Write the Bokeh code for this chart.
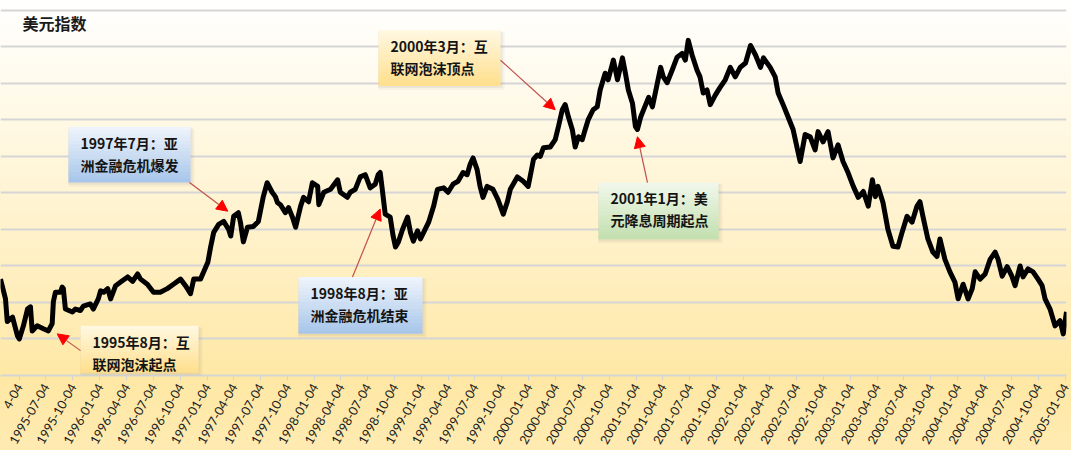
import pandas as pd
from bokeh.plotting import figure
from bokeh.models import (FixedTicker, DatetimeTickFormatter, Range1d, BoxAnnotation,
                          Label, Arrow, NormalHead, ColumnDataSource)
from bokeh.embed import file_html
from bokeh.resources import INLINE

# ---------------- data ----------------
dates = [
    "1995-01-31", "1995-02-17", "1995-02-23", "1995-03-13", "1995-03-30", "1995-04-05", "1995-04-19",
    "1995-05-03", "1995-05-13", "1995-05-19", "1995-06-05", "1995-06-26", "1995-07-13", "1995-07-26",
    "1995-07-30", "1995-08-06", "1995-08-23", "1995-08-29", "1995-09-02", "1995-09-09", "1995-10-03",
    "1995-10-13", "1995-10-30", "1995-11-09", "1995-12-03", "1995-12-13", "1995-12-30", "1996-01-07",
    "1996-01-17", "1996-01-31", "1996-02-10", "1996-02-27", "1996-03-15", "1996-04-08", "1996-04-25",
    "1996-05-12", "1996-05-22", "1996-06-14", "1996-07-05", "1996-07-28", "1996-08-21", "1996-09-11",
    "1996-10-05", "1996-10-22", "1996-11-08", "1996-11-19", "1996-12-12", "1996-12-23", "1997-01-06",
    "1997-01-16", "1997-01-26", "1997-02-12", "1997-03-01", "1997-03-18", "1997-03-25", "1997-04-04",
    "1997-04-20", "1997-04-27", "1997-05-07", "1997-05-21", "1997-06-10", "1997-06-27", "1997-07-14",
    "1997-07-27", "1997-08-13", "1997-08-24", "1997-08-31", "1997-09-10", "1997-09-27", "1997-10-08",
    "1997-10-21", "1997-11-01", "1997-11-18", "1997-11-28", "1997-12-15", "1997-12-28", "1998-01-15",
    "1998-01-19", "1998-02-05", "1998-02-28", "1998-03-24", "1998-04-02", "1998-04-26", "1998-05-06",
    "1998-05-23", "1998-06-09", "1998-06-26", "1998-07-13", "1998-07-30", "1998-08-09", "1998-08-16",
    "1998-08-23", "1998-09-02", "1998-09-19", "1998-09-29", "1998-10-07", "1998-10-17", "1998-10-31",
    "1998-11-17", "1998-11-27", "1998-12-07", "1998-12-21", "1998-12-31", "1999-01-11", "1999-01-28",
    "1999-02-14", "1999-02-27", "1999-03-20", "1999-04-04", "1999-04-21", "1999-05-08", "1999-05-25",
    "1999-06-08", "1999-06-18", "1999-06-28", "1999-07-12", "1999-07-22", "1999-08-01", "1999-08-15",
    "1999-09-04", "1999-09-21", "1999-10-09", "1999-10-23", "1999-11-02", "1999-11-26", "1999-12-16",
    "2000-01-02", "2000-01-20", "2000-02-02", "2000-02-12", "2000-02-23", "2000-03-17", "2000-04-03",
    "2000-04-14", "2000-04-27", "2000-05-07", "2000-05-18", "2000-05-31", "2000-06-10", "2000-06-21",
    "2000-07-04", "2000-07-14", "2000-07-24", "2000-08-10", "2000-08-24", "2000-09-03", "2000-09-20",
    "2000-09-30", "2000-10-18", "2000-11-01", "2000-11-18", "2000-11-28", "2000-12-08", "2000-12-22",
    "2001-01-01", "2001-01-08", "2001-01-19", "2001-02-05", "2001-02-15", "2001-02-28", "2001-03-17",
    "2001-03-28", "2001-04-06", "2001-04-19", "2001-05-06", "2001-05-23", "2001-06-09", "2001-06-20",
    "2001-06-30", "2001-07-13", "2001-07-30", "2001-08-09", "2001-08-20", "2001-09-02", "2001-09-13",
    "2001-09-30", "2001-10-17", "2001-11-03", "2001-11-20", "2001-12-07", "2001-12-24", "2002-01-11",
    "2002-01-28", "2002-02-14", "2002-03-03", "2002-03-13", "2002-04-05", "2002-04-22", "2002-05-02",
    "2002-05-19", "2002-06-05", "2002-06-22", "2002-07-05", "2002-07-16", "2002-08-02", "2002-08-19",
    "2002-09-05", "2002-09-15", "2002-10-02", "2002-10-19", "2002-11-05", "2002-11-22", "2002-12-09",
    "2002-12-26", "2003-01-13", "2003-01-30", "2003-02-16", "2003-03-05", "2003-03-19", "2003-03-29",
    "2003-04-07", "2003-04-24", "2003-05-11", "2003-05-28", "2003-06-14", "2003-06-28", "2003-07-15",
    "2003-08-01", "2003-08-18", "2003-08-28", "2003-09-07", "2003-09-24", "2003-10-11", "2003-10-25",
    "2003-11-04", "2003-11-21", "2003-12-08", "2003-12-25", "2004-01-05", "2004-01-22", "2004-02-08",
    "2004-02-22", "2004-03-03", "2004-03-20", "2004-04-06", "2004-04-23", "2004-05-10", "2004-05-20",
    "2004-06-03", "2004-06-20", "2004-07-06", "2004-07-17", "2004-08-03", "2004-08-13", "2004-08-30",
    "2004-09-16", "2004-10-03", "2004-10-17", "2004-10-27", "2004-11-13", "2004-11-30", "2004-12-17",
    "2004-12-28", "2005-01-08",
]
usd_index = [
    88.2, 85.5, 82.4, 83.0, 80.4, 80.0, 81.8,
    84.1, 84.4, 81.1, 81.8, 81.4, 81.1, 82.1,
    85.1, 86.4, 86.4, 87.1, 86.9, 84.1, 83.7,
    84.1, 83.9, 84.5, 84.8, 84.1, 85.5, 86.6,
    86.4, 86.9, 85.5, 87.3, 87.8, 88.5, 87.9,
    88.9, 88.2, 87.5, 86.4, 86.4, 86.9, 87.5,
    88.2, 87.3, 86.2, 88.2, 88.2, 89.2, 90.5,
    92.7, 94.6, 95.7, 96.1, 95.0, 94.1, 96.8,
    97.3, 96.0, 93.3, 95.3, 95.4, 96.1, 99.5,
    101.4, 100.1, 99.5, 98.7, 98.4, 97.3, 98.0,
    96.7, 95.3, 98.2, 99.4, 98.8, 101.4, 100.9,
    98.4, 100.1, 100.5, 101.8, 100.1, 99.4, 100.1,
    100.5, 102.2, 102.5, 100.7, 101.2, 102.5, 102.8,
    100.5, 97.1, 96.7, 94.1, 92.6, 93.3, 95.0,
    96.7, 94.6, 93.4, 94.8, 93.7, 94.6, 96.0,
    98.2, 100.5, 100.7, 100.1, 101.2, 101.6, 102.8,
    102.5, 103.9, 104.8, 103.2, 100.9, 99.4, 100.9,
    100.5, 99.1, 97.1, 98.8, 100.5, 102.2, 101.6,
    100.9, 104.6, 105.2, 105.0, 106.2, 106.3, 107.3,
    109.1, 111.4, 112.1, 110.4, 108.7, 106.3, 107.7,
    107.3, 108.7, 110.0, 111.4, 111.8, 114.1, 116.4,
    115.5, 118.2, 115.5, 118.5, 116.4, 114.1, 112.3,
    109.1, 108.7, 110.4, 112.1, 113.1, 111.8, 115.1,
    117.2, 115.9, 115.1, 116.8, 118.6, 119.1, 118.2,
    120.9, 118.9, 116.8, 115.9, 113.7, 114.1, 112.1,
    113.4, 114.5, 115.5, 117.2, 115.9, 117.2, 117.8,
    120.2, 118.9, 117.2, 118.5, 117.2, 115.9, 113.7,
    112.1, 110.4, 108.7, 106.3, 104.3, 108.0, 107.7,
    105.9, 108.4, 107.0, 108.4, 104.8, 106.6, 104.3,
    102.8, 100.9, 99.4, 100.2, 98.2, 101.8, 99.5,
    100.9, 98.7, 95.0, 92.7, 92.6, 94.6, 96.8,
    96.0, 98.2, 98.8, 96.8, 93.7, 91.9, 91.3,
    93.7, 90.9, 89.2, 87.8, 85.5, 87.5, 85.5,
    86.9, 89.2, 88.2, 88.9, 90.9, 91.9, 90.9,
    88.6, 89.9, 88.6, 87.3, 90.0, 88.5, 89.6,
    89.2, 88.2, 87.3, 85.5, 84.1, 81.8, 82.5,
    80.7, 83.7,
]
tick_dates = [
    "1995-04-04", "1995-07-04", "1995-10-04", "1996-01-04", "1996-04-04", "1996-07-04", "1996-10-04",
    "1997-01-04", "1997-04-04", "1997-07-04", "1997-10-04", "1998-01-04", "1998-04-04", "1998-07-04",
    "1998-10-04", "1999-01-04", "1999-04-04", "1999-07-04", "1999-10-04", "2000-01-04", "2000-04-04",
    "2000-07-04", "2000-10-04", "2001-01-04", "2001-04-04", "2001-07-04", "2001-10-04", "2002-01-04",
    "2002-04-04", "2002-07-04", "2002-10-04", "2003-01-04", "2003-04-04", "2003-07-04", "2003-10-04",
    "2004-01-04", "2004-04-04", "2004-07-04", "2004-10-04", "2005-01-04",
]
# the first tick label is only partly visible at the left edge of the picture
first_tick_visible_text = "4-04"
grid_levels = [75, 80, 85, 90, 95, 100, 105, 110, 115, 120, 125]
chart_title = "美元指数"
event_line1 = ["1995年8月：互", "1997年7月：亚", "1998年8月：亚", "2000年3月：互", "2001年1月：美"]
event_line2 = ["联网泡沫起点", "洲金融危机爆发", "洲金融危机结束", "联网泡沫顶点", "元降息周期起点"]
event_tip_dates = ["1995-08-12", "1997-03-15", "1998-08-16", "2000-04-03", "2001-01-08"]
event_tip_values = [80.7, 97.5, 97.8, 111.4, 107.7]
event_styles = ["gold", "blue", "blue", "gold", "green"]

# ---------------- layout / style ----------------
W, H = 1071, 450
X_START, X_END = "1995-01-31", "2005-01-08"
Y_MIN, Y_MAX = 75.0, 126.36


def ms(s):
    return pd.Timestamp(s).value / 1e6


x0, x1 = ms(X_START), ms(X_END)
FRAME_L, FRAME_R, FRAME_T, FRAME_B = 0, 1066, 0, 377   # frame edges in pixels


def sx(px):
    return x0 + (px - FRAME_L) / (FRAME_R - FRAME_L) * (x1 - x0)


def sy(py):
    return Y_MIN + (FRAME_B - py) / (FRAME_B - FRAME_T) * (Y_MAX - Y_MIN)


p = figure(width=W, height=H, x_axis_type="datetime",
           x_range=Range1d(x0, x1), y_range=Range1d(Y_MIN, Y_MAX),
           output_backend="svg", toolbar_location=None,
           min_border_left=0, min_border_right=W - FRAME_R, min_border_top=0,
           min_border_bottom=H - FRAME_B)

p.background_fill_alpha = 0
p.border_fill_alpha = 0
p.outline_line_color = None
p.styles = {"background": "linear-gradient(to bottom, #FFFFFF 0%, #FFF8E3 28%, #FFF0C4 58%, #FFE8A4 84%, #FFEBB2 100%)"}

p.yaxis.visible = False
p.xgrid.visible = False
p.ygrid.ticker = FixedTicker(ticks=grid_levels)
p.ygrid.grid_line_color = "#D5D5D5"
p.ygrid.grid_line_width = 2

tick_ms = [ms(d) for d in tick_dates]
p.xaxis.ticker = FixedTicker(ticks=tick_ms)
fmt = "%Y-%m-%d"
p.xaxis.formatter = DatetimeTickFormatter(days=fmt, months=fmt, years=fmt, hours=fmt,
                                          hourmin=fmt, minutes=fmt, minsec=fmt, seconds=fmt,
                                          milliseconds=fmt, microseconds=fmt)
p.xaxis.major_label_overrides = {tick_ms[0]: first_tick_visible_text}
p.xaxis.axis_line_color = "#D5D5D5"
p.xaxis.axis_line_width = 2
p.xaxis.major_tick_line_color = "#D5D5D5"
p.xaxis.major_tick_out = 5
p.xaxis.major_tick_in = 0
p.xaxis.minor_tick_line_color = None
p.xaxis.major_label_orientation = 1.05
p.xaxis.major_label_standoff = 4
p.xaxis.major_label_text_font = "Lato"
p.xaxis.major_label_text_font_size = "12.5px"
p.xaxis.major_label_text_color = "#1A1A1A"

src = ColumnDataSource(dict(date=pd.to_datetime(dates), v=usd_index))
p.line("date", "v", source=src, line_width=5, line_color="#000000", line_join="round")

# title
p.add_layout(Label(x=sx(22), y=sy(23), text=chart_title, text_font="Noto Sans CJK SC",
                   text_font_size="16px", text_font_style="bold", text_color="#1A1A1A",
                   text_baseline="middle", text_align="left"))

# callout boxes (pixel rectangles) and arrow starts
boxes = [(80, 327, 198, 374), (68, 127, 190, 183), (298, 278, 422, 335),
         (378, 30, 500, 86), (598, 183, 718, 240)]
arrow_starts = [(80, 352), (189, 183), (352, 278), (500, 60), (647, 183)]
palette = {
    "gold": ((0xFF, 0xF8, 0xE2), (0xFF, 0xDF, 0x8C)),
    "blue": ((0xF0, 0xF5, 0xFC), (0xA6, 0xC5, 0xEA)),
    "green": ((0xF1, 0xF8, 0xEC), (0xC2, 0xDF, 0xAE)),
}


def mix(c1, c2, t):
    return "#%02X%02X%02X" % tuple(int(round(a + (b - a) * t)) for a, b in zip(c1, c2))


N = 16
for (l, t, r, b), style in zip(boxes, event_styles):
    for k, a in ((4, 0.07), (2, 0.10)):
        p.add_layout(BoxAnnotation(left=sx(l - 1 + k * 0.3), right=sx(r + k), top=sy(t + k * 0.5),
                                   bottom=sy(b + k), fill_color="#7F7F7F", fill_alpha=a,
                                   line_color=None))
    ctop, cbot = palette[style]
    for i in range(N):
        tt = t + (b - t) * i / N
        bb = t + (b - t) * (i + 1) / N + 0.6
        p.add_layout(BoxAnnotation(left=sx(l), right=sx(r), top=sy(tt), bottom=sy(min(bb, b)),
                                   fill_color=mix(ctop, cbot, (i + 0.5) / N), fill_alpha=1,
                                   line_color=None))

for (l, t, r, b), l1, l2 in zip(boxes, event_line1, event_line2):
    for txt, dy in ((l1, 16), (l2, 38)):
        p.add_layout(Label(x=sx(l + 12), y=sy(t + dy), text=txt, text_font="Noto Sans CJK SC",
                           text_font_size="14px", text_font_style="bold", text_color="#141414",
                           text_baseline="middle", text_align="left"))

for (ax, ay), td, tv in zip(arrow_starts, event_tip_dates, event_tip_values):
    p.add_layout(Arrow(end=NormalHead(size=11, fill_color="#FF0000", line_color="#FF0000"),
                       x_start=sx(ax), y_start=sy(ay), x_end=ms(td), y_end=tv,
                       line_color="#C0504D", line_width=1.2))

open("out.html", "w").write(file_html(p, INLINE))
